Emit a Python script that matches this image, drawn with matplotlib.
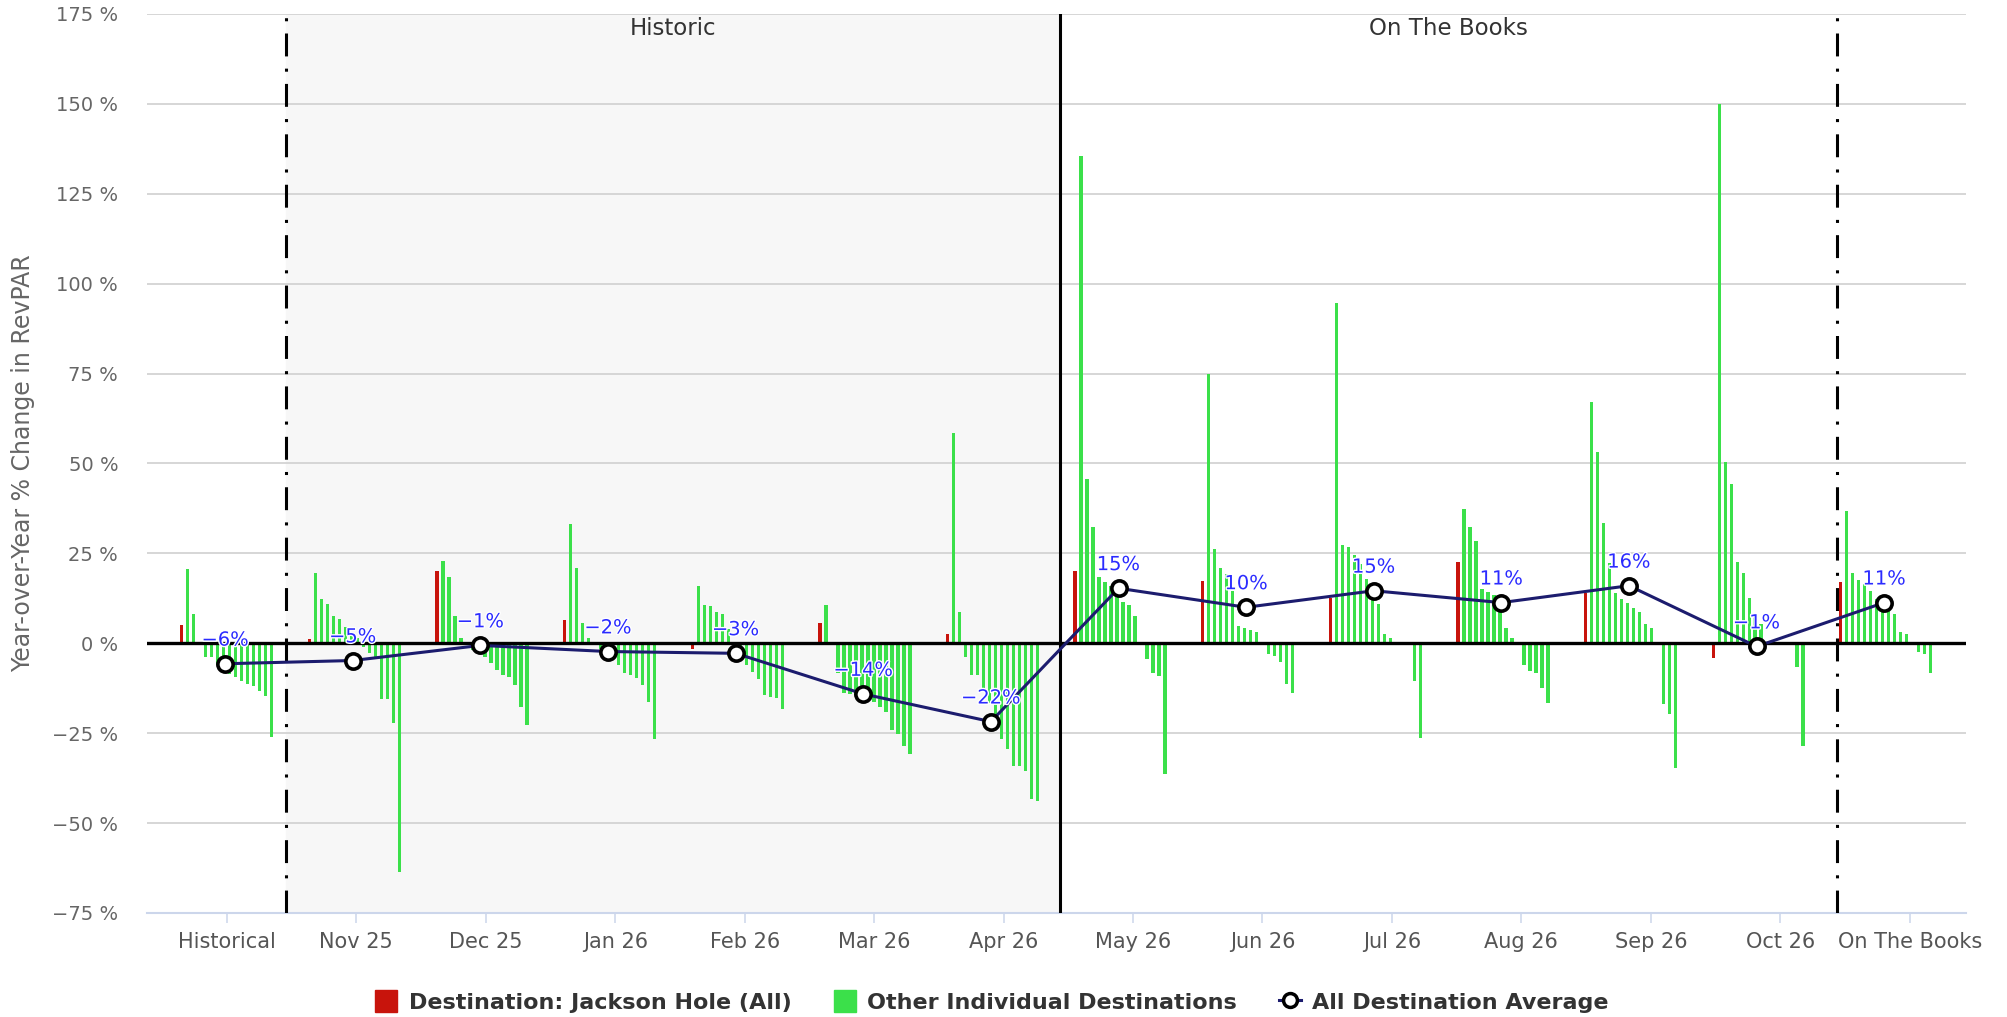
import numpy as np
import matplotlib
matplotlib.use('Agg')
from matplotlib import pyplot as plt
from matplotlib import font_manager
from matplotlib.lines import Line2D
from matplotlib.patches import Patch
import matplotlib.patheffects as pe

names = {f.name for f in font_manager.fontManager.ttflist}
narrow = 'Liberation Sans Narrow' if 'Liberation Sans Narrow' in names else 'DejaVu Sans'

categories = ['Historical', 'Nov 25', 'Dec 25', 'Jan 26', 'Feb 26', 'Mar 26', 'Apr 26',
              'May 26', 'Jun 26', 'Jul 26', 'Aug 26', 'Sep 26', 'Oct 26', 'On The Books']

# Destination: Jackson Hole (All), one value per period
jackson = [5.0, 1.1, 20.0, 6.6, -1.5, 5.5, 2.6, 20.1, 17.2, 12.5, 22.7, 13.9, -4.0, 17.1]

# other individual destinations, sorted high to low within each period
others = [
    [20.6, 8.2, 0, -3.7, -3.7, -6, -7.5, -8.5, -9.5, -10.5, -11.2, -12, -13.4, -14.8, -26],
    [19.4, 12.2, 11, 7.7, 6.7, 4.4, 3, 1.5, -1, -2.8, -4, -15.5, -15.5, -22.2, -63.5],
    [22.8, 18.3, 7.7, 1.5, -0.5, -1.9, -2.8, -3.7, -5.5, -7.4, -8.8, -9.3, -11.6, -17.8, -22.8],
    [33.3, 21, 5.5, 1.5, -0.5, -1.5, -2.5, -4, -6, -8.4, -8.9, -9.8, -11.7, -16.4, -26.7],
    [16, 10.5, 10.4, 8.8, 8.1, 4, -1, -4, -6.1, -7.9, -10, -14.5, -14.9, -15.1, -18.2],
    [10.6, 0, -8.4, -13.8, -14, -14.5, -15, -15.5, -16.4, -17.8, -19.2, -24, -25.2, -28.5, -30.8],
    [58.5, 8.8, -3.9, -8.8, -8.8, -13, -16.7, -20.4, -26.7, -29.4, -34, -34, -35.6, -43.3, -44],
    [135.5, 45.8, 32.2, 18.3, 17.1, 16, 14.5, 11.6, 10.5, 7.7, 0, -4.4, -8.4, -9, -36.3],
    [75, 26.2, 21, 19.3, 14.5, 4.8, 4.3, 3.7, 3.2, 0, -3, -3.5, -5.1, -11.3, -13.7],
    [94.5, 27.3, 26.7, 24.5, 22, 18, 14, 10.9, 2.7, 1.5, 0, 0, 0, -10.6, -26.3],
    [37.2, 32.2, 28.3, 15, 14.3, 13.5, 11.2, 4.2, 1.5, 0, -6.1, -7.8, -8.4, -12.4, -16.7],
    [67, 53.2, 33.4, 22.3, 13.9, 12.2, 11.2, 9.8, 8.7, 5.3, 4.2, 0, -16.9, -19.7, -34.7],
    [150, 50.4, 44.3, 22.7, 19.4, 12.7, 8, 5.4, 0, 0, 0, 0, 0, -6.7, -28.5],
    [36.8, 19.4, 17.6, 16.5, 14.4, 12.3, 11.2, 10.4, 8.1, 3.2, 2.6, 0, -2.3, -2.9, -8.3],
]

average = [-5.7, -4.8, -0.6, -2.3, -2.8, -14.1, -21.8, 15.3, 10.0, 14.6, 11.3, 16.0, -0.9, 11.3]

RED = '#c8140c'
GREEN = '#3be04a'
NAVY = '#1c1c6e'

slot = 0.047          # spacing between destination bars, in period units
avg_off = 0.34        # where the average marker sits inside a period
tick_start, tick_step = 0.353, 1.0144
hist_start, otb_start, otb_end = 0.815, 6.883, 12.97

fig = plt.figure(figsize=(20.08, 10.17), dpi=100)
ax = fig.add_axes([0.0734, 0.1023, 0.9056, 0.884])

n = len(categories)
x0 = np.arange(n)
ax.bar(x0, jackson, width=slot * 0.55, color=RED, zorder=2)
for i, vals in enumerate(others):
    xs = i + slot * np.arange(1, len(vals) + 1)
    ax.bar(xs, vals, width=slot * 0.55, color=GREEN, zorder=2)

xm = x0 + avg_off
ax.plot(xm, average, color=NAVY, lw=2.2, marker='o', ms=11, mfc='white', mec='black',
        mew=2.6, zorder=5)
for x, v in zip(xm, average):
    ax.annotate(f"{int(round(v))}%".replace('-', '\u2212'), (x, v), xytext=(0, 17),
                textcoords='offset points', ha='center', va='center', color='#2b2bff',
                fontsize=14, zorder=6,
                path_effects=[pe.withStroke(linewidth=2, foreground='white')])

# shaded historic band and separators
ax.axvspan(hist_start, otb_start, color='#f7f7f7', zorder=0)
for xv in (hist_start, otb_end):
    ax.axvline(xv, color='black', lw=2.2, ls=(0, (7.5, 4, 1, 4)), zorder=3)
ax.axvline(otb_start, color='black', lw=2.2, zorder=3)
ax.axhline(0, color='black', lw=2.4, zorder=3)

ax.text((hist_start + otb_start) / 2, 0.984, 'Historic', transform=ax.get_xaxis_transform(),
        ha='center', va='center', fontsize=16.5, color='#333333')
ax.text((otb_start + otb_end) / 2, 0.984, 'On The Books', transform=ax.get_xaxis_transform(),
        ha='center', va='center', fontsize=16.5, color='#333333')

ax.set_xlim(-0.27, 13.98)
ax.set_ylim(-75, 175)
yt = np.arange(-75, 176, 25)
ax.set_yticks(yt)
ax.set_yticklabels([f"{v} %".replace('-', '\u2212') for v in yt], fontsize=14, color='#666666')
ax.set_xticks(tick_start + tick_step * x0)
ax.set_xticklabels(categories, fontsize=15, color='#555555')
ax.tick_params(axis='y', length=0, pad=21)
ax.tick_params(axis='x', length=7, width=1.1, color='#ccd6eb', pad=7)
ax.grid(axis='y', color='#d0d0d0', lw=1.2, zorder=1)
ax.set_axisbelow(True)
for s in ('top', 'right', 'left'):
    ax.spines[s].set_visible(False)
ax.spines['bottom'].set_color('#ccd6eb')
ax.spines['bottom'].set_linewidth(1.5)

ax.set_ylabel('Year-over-Year % Change in RevPAR', fontsize=17, color='#666666', family=narrow)
ax.yaxis.set_label_coords(-0.0615, 0.5)

handles = [Patch(color=RED), Patch(color=GREEN),
           Line2D([], [], color=NAVY, lw=2.2, marker='o', ms=10, mfc='white', mec='black', mew=2.5)]
labels = ['Destination: Jackson Hole (All)', 'Other Individual Destinations', 'All Destination Average']
fig.legend(handles, labels, ncol=3, loc='center', bbox_to_anchor=(0.494, 0.0152), frameon=False,
           prop={'family': narrow, 'weight': 'bold', 'size': 16}, labelcolor='#333333',
           handlelength=1.0, handleheight=1.1, handletextpad=0.5, columnspacing=1.9)

fig.savefig('out.png', dpi=100)
